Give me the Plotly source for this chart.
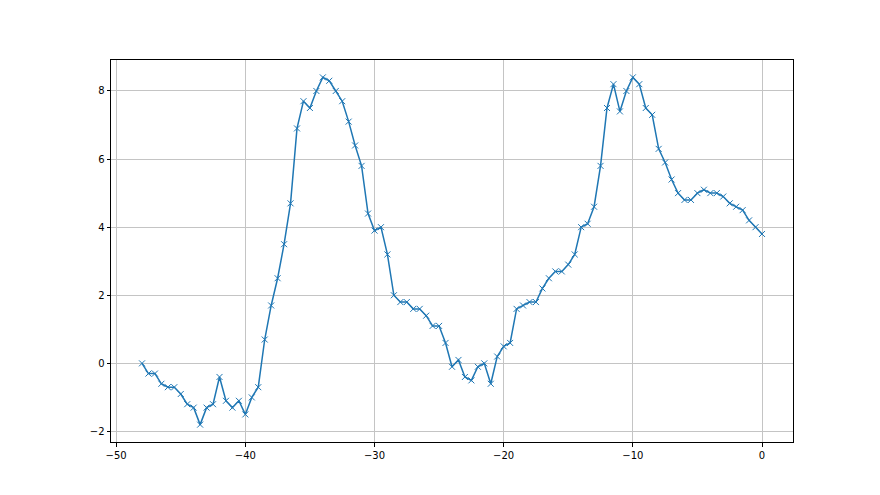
import plotly.graph_objects as go

x_vals = [-48 + 0.5 * i for i in range(97)]
y_vals = [
    0.0, -0.3, -0.3, -0.6, -0.7, -0.7, -0.9, -1.2, -1.3, -1.8,
    -1.3, -1.2, -0.4, -1.1, -1.3, -1.1, -1.5, -1.0, -0.7, 0.7,
    1.7, 2.5, 3.5, 4.7, 6.9, 7.7, 7.5, 8.0, 8.4, 8.3,
    8.0, 7.7, 7.1, 6.4, 5.8, 4.4, 3.9, 4.0, 3.2, 2.0,
    1.8, 1.8, 1.6, 1.6, 1.4, 1.1, 1.1, 0.6, -0.1, 0.1,
    -0.4, -0.5, -0.1, 0.0, -0.6, 0.2, 0.5, 0.6, 1.6, 1.7,
    1.8, 1.8, 2.2, 2.5, 2.7, 2.7, 2.9, 3.2, 4.0, 4.1,
    4.6, 5.8, 7.5, 8.2, 7.4, 8.0, 8.4, 8.2, 7.5, 7.3,
    6.3, 5.9, 5.4, 5.0, 4.8, 4.8, 5.0, 5.1, 5.0, 5.0,
    4.9, 4.7, 4.6, 4.5, 4.2, 4.0, 3.8,
]
x_ticks = [-50, -40, -30, -20, -10, 0]
y_ticks = [-2, 0, 2, 4, 6, 8]

color = "#1f77b4"
fig = go.Figure(
    go.Scatter(
        x=x_vals, y=y_vals, mode="lines+markers",
        line=dict(color=color, width=1.5),
        marker=dict(symbol="x-thin", size=6, line=dict(color=color, width=1), color=color),
        showlegend=False,
    )
)

axis_common = dict(
    showgrid=True, gridcolor="#c4c4c4", gridwidth=1,
    zeroline=False, showline=True, linecolor="black", linewidth=1, mirror=True,
    ticks="outside", ticklen=3.5, tickwidth=0.8, tickcolor="black",
    tickfont=dict(family="DejaVu Sans", size=10, color="black"),
)
fig.update_xaxes(range=[-50.4, 2.4], tickvals=x_ticks, **axis_common)
fig.update_yaxes(range=[-2.31, 8.91], tickvals=y_ticks, **axis_common)

fig.update_layout(
    width=880, height=495,
    margin=dict(l=103, r=95, t=52, b=61, pad=0),
    plot_bgcolor="white", paper_bgcolor="white",
)
fig.write_html("out.html")
